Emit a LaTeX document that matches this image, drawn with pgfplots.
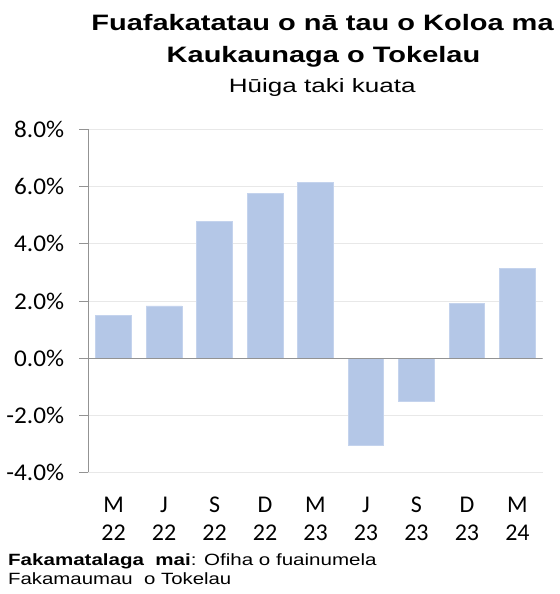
\documentclass[border=0pt]{standalone}
\usepackage{pgfplots}
\pgfplotsset{compat=1.18}
\usepackage{graphicx}
\usepackage{fontspec}
\setmainfont{Liberation Sans}
\newfontfamily\calfont{Carlito}
\definecolor{barfill}{RGB}{180,199,231}
\definecolor{baredge}{RGB}{196,211,237}
\begin{document}
\begin{tikzpicture}[x=1bp,y=1bp]
\path[use as bounding box] (0,0) rectangle (560,594);
\begin{axis}[
  at={(88.3bp,121.5bp)}, anchor=south west,
  scale only axis, width=454.4bp, height=343bp,
  xmin=-0.5, xmax=8.5, ymin=-4, ymax=8,
  axis y line*=left, axis x line*=bottom,
  x axis line style={draw=none},
  y axis line style={draw=gray!85, line width=0.8pt},
  xtick={0,...,8},
  xticklabels={{M\\22},{J\\22},{S\\22},{D\\22},{M\\23},{J\\23},{S\\23},{D\\23},{M\\24}},
  x tick style={draw=none},
  xticklabel style={font=\calfont\fontsize{24bp}{28bp}\selectfont, align=center, yshift=-12bp},
  ytick={-4,-2,0,2,4,6,8},
  yticklabels={-4.0\%,-2.0\%,0.0\%,2.0\%,4.0\%,6.0\%,8.0\%},
  y tick style={draw=gray!85, line width=0.8pt},
  tick align=outside, major tick length=9bp,
  yticklabel style={font=\calfont\fontsize{24bp}{28bp}\selectfont, xscale=1.05, anchor=east, xshift=-11bp},
  ymajorgrids, grid style={draw=gray!18, line width=0.8pt},
  ybar, bar width=35.6bp,
]
\addplot[fill=barfill, draw=baredge, line width=0.6pt] coordinates {
(0,1.49) (1,1.83) (2,4.79) (3,5.75) (4,6.15) (5,-3.04) (6,-1.51) (7,1.91) (8,3.15)};
\draw[gray!85, line width=1pt] (axis cs:-0.5,0) -- (axis cs:8.5,0);
\end{axis}
\node[anchor=base, inner sep=0] at (322.5,563) {\scalebox{1.3}[1]{\fontsize{22.3bp}{27bp}\selectfont\bfseries Fuafakatatau o nā tau o Koloa ma}};
\node[anchor=base, inner sep=0] at (323.5,531.7) {\scalebox{1.3}[1]{\fontsize{22.3bp}{27bp}\selectfont\bfseries Kaukaunaga o Tokelau}};
\node[anchor=base, inner sep=0] at (322.3,501.3) {\scalebox{1.35}[1]{\fontsize{19.3bp}{23bp}\selectfont Hūiga taki kuata}};
\node[anchor=base west, inner sep=0] at (8,28) {\scalebox{1.26}[1]{\fontsize{16.3bp}{20bp}\selectfont\textbf{Fakamatalaga\ \ mai}: Ofiha o fuainumela}};
\node[anchor=base west, inner sep=0] at (8,9.7) {\scalebox{1.25}[1]{\fontsize{16.3bp}{20bp}\selectfont Fakamaumau\ \ o Tokelau}};
\end{tikzpicture}
\end{document}
